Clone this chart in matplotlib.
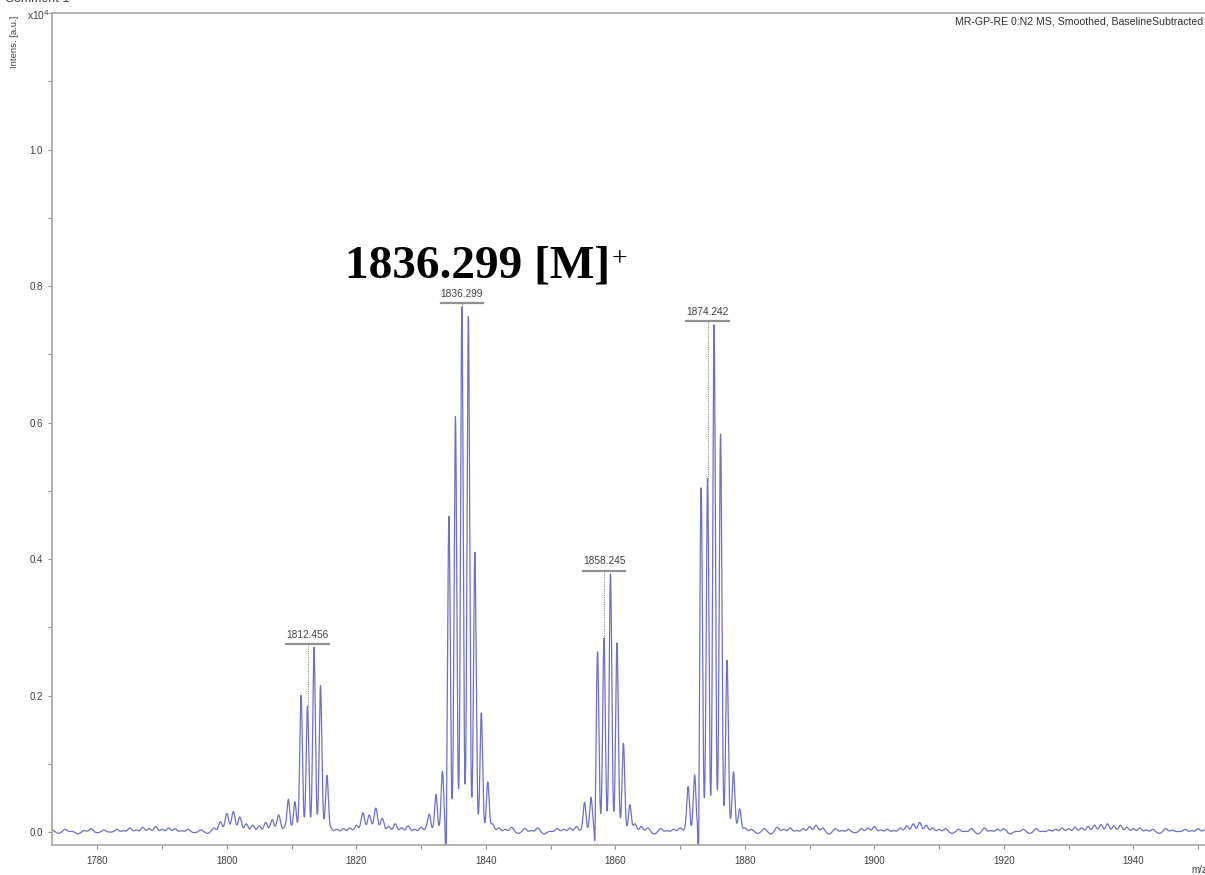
import numpy as np
import matplotlib
matplotlib.use("Agg")
import matplotlib.pyplot as plt
from matplotlib.ticker import MultipleLocator, FormatStrFormatter

# isotope peaks of the four clusters: m/z and intensity (x10^4 a.u.)
peak_mz = [1809.5, 1810.5, 1811.46, 1812.456, 1813.46, 1814.46, 1815.46,
           1831.3, 1832.3, 1833.3, 1834.3, 1835.3, 1836.299, 1837.3, 1838.3, 1839.3, 1840.3,
           1855.25, 1856.25, 1857.25, 1858.245, 1859.25, 1860.25, 1861.25, 1862.25,
           1871.25, 1872.25, 1873.25, 1874.242, 1875.25, 1876.25, 1877.25, 1878.25, 1879.25]
peak_int = [0.045, 0.042, 0.198, 0.183, 0.269, 0.212, 0.080,
            0.020, 0.052, 0.086, 0.460, 0.607, 0.767, 0.752, 0.408, 0.172, 0.070,
            0.040, 0.048, 0.262, 0.281, 0.375, 0.275, 0.126, 0.037,
            0.061, 0.080, 0.502, 0.515, 0.742, 0.579, 0.246, 0.081, 0.025]

# baseline subtraction dips
dip_mz = [1833.85, 1856.85, 1872.85]
dip_int = [-0.095, -0.045, -0.11]

# baseline ripple, one value per Da from 1773 (x1e-3)
noise_start = 1773
noise_milli = [3, -2, 4, 1, -3, 2, 5, -1, 3, 0,
               4, 2, 6, 3, 7, 5, 8, 4, 6, 5,
               2, 4, -1, 3, -2, 6, 15, 27, 30, 22,
               12, 10, 9, 14, 18, 25, 8, 6, 5, 5,
               3, 5, 8, 6, 4, 5, 6, 10, 28, 25,
               35, 20, 8, 12, 6, 9, 4, 7, 10, 5,
               5, 4, 3, 4, 5, 3, 4, 5, 12, 6,
               4, 7, -2, 5, 2, 6, -3, 1, 5, 4,
               6, 8, 5, 4, 3, 4, 5, 3, 6, 4,
               12, 8, 6, -3, 5, 2, 4, 6, 8, 5,
               4, 5, 3, 6, 8, 10, 12, 6, 4, -2,
               5, -3, 7, 4, 6, 2, 5, 8, 10, 6,
               -3, 5, 2, 4, -1, 5, 6, 8, 3, 4,
               2, 6, 9, 12, 14, 10, 6, 4, 5, -2,
               4, 1, 5, -3, 6, 2, 4, 5, -3, 1,
               4, -2, 5, 1, 3, 4, 6, 5, 7, 6,
               8, 10, 11, 12, 9, 10, 7, 5, 6, 3,
               4, -2, 5, 3, 1, 4, 2, 5, 3]

labels = ["1812.456", "1836.299", "1858.245", "1874.242"]
y_ticks = [0.0, 0.2, 0.4, 0.6, 0.8, 1.0]


def profile(x, centres, heights, width):
    y = np.zeros_like(x)
    for c, h in zip(centres, heights):
        y += h * np.exp(-0.5 * ((x - c) / width) ** 2)
    return y


mz = np.arange(1772.0, 1953.0, 0.02)
noise_mz = noise_start + np.arange(len(noise_milli))
intens = (profile(mz, peak_mz, peak_int, 0.2)
          + profile(mz, dip_mz, dip_int, 0.08)
          + profile(mz, noise_mz, np.array(noise_milli) / 1000.0, 0.28))

fig = plt.figure(figsize=(12.05, 8.75), dpi=100)
ax = fig.add_axes([0.0432, 0.0343, 0.9618, 0.9508])
ax.plot(mz, intens, color="#7070c4", lw=0.9)

ax.set_xlim(1773, 1952)
ax.set_ylim(-0.019, 1.2)
ax.xaxis.set_major_locator(MultipleLocator(20))
ax.xaxis.set_minor_locator(MultipleLocator(10))
ax.set_yticks(y_ticks)
ax.yaxis.set_minor_locator(MultipleLocator(0.1))
ax.yaxis.set_major_formatter(FormatStrFormatter("%.1f"))
ax.tick_params(which="both", direction="out", length=3, width=0.8,
               color="#909090", labelsize=7, labelcolor="#404040",
               labelfontfamily="Liberation Sans")
ax.tick_params(axis="x", pad=5)
for side in ["left", "bottom", "top", "right"]:
    ax.spines[side].set_color("#a8a8a8")
    ax.spines[side].set_linewidth(1.2)

# peak labels with underline and dotted marker
for lab in labels:
    m = float(lab)
    sel = (mz > m - 4) & (mz < m + 4)
    top = intens[sel].max() + 0.005
    h = peak_int[peak_mz.index(m)]
    ax.plot([m - 3.3, m + 3.3], [top, top], color="#909090", lw=1.6)
    ax.plot([m, m], [h, top], color="#909090", lw=0.8, ls=(0, (1, 1)))
    ax.text(m, top + 0.006, lab, ha="center", va="bottom", fontsize=7.3,
            color="#404040", family="Liberation Sans")

big = ax.text(1818.3, 0.812, "1836.299 [M]", fontsize=34, fontweight="bold",
              family="Liberation Serif", color="black", va="baseline", ha="left")
ax.annotate("+", xy=(1, 1), xycoords=big, xytext=(1, -1), textcoords="offset points",
            fontsize=20, family="Liberation Serif", va="top", ha="left")

fig.text(0.7925, 0.975, "MR-GP-RE 0:N2 MS, Smoothed, BaselineSubtracted",
         fontsize=7.6, color="#303030", family="Liberation Sans", va="center")
fig.text(0.012, 0.952, "Intens. [a.u.]", rotation=90, fontsize=6.8,
         color="#404040", family="Liberation Sans", va="center", ha="center")
fig.text(0.022, 0.983, "x10$^4$", fontsize=7.5, color="#404040",
         family="Liberation Sans", va="center")
fig.text(0.004, 0.998, "Comment 1", fontsize=9, color="#404040",
         family="Liberation Sans", va="baseline")
fig.text(0.989, 0.002, "m/z", fontsize=7, color="#404040",
         family="Liberation Sans", va="baseline")

fig.savefig("out.png", dpi=100)
